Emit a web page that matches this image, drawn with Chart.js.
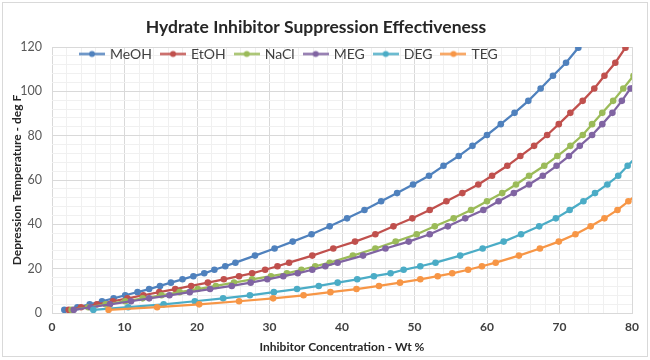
<!DOCTYPE html>
<html>
<head>
<meta charset="utf-8">
<script src="https://cdn.jsdelivr.net/npm/chart.js@4.4.1/dist/chart.umd.min.js"></script>
<style>
  body { margin: 0; background: #fff; }
  canvas { display: block; }
</style>
</head>
<body>
<canvas id="hydrateChart" width="650" height="360"></canvas>
<script>
// depression temperature levels (deg F), shared by all inhibitors
const depressionLevels = [1.4, 2.6, 3.9, 5.3, 6.6, 8.0, 9.4, 10.8, 12.2, 13.7, 15.2, 16.6, 17.9, 19.5, 21.1, 22.7,
  25.9, 29.1, 32.2, 35.5, 39.1, 42.7, 46.5, 50.4, 54.1, 58.0, 61.9, 66.4, 70.8, 75.4, 80.3, 85.2, 90.3, 95.7,
  101.3, 107.0, 112.9, 119.7];

// inhibitor concentration (wt %) needed for each level
const meohWt = [1.7, 3.5, 5.2, 6.9, 8.5, 10.1, 11.8, 13.4, 14.9, 16.4, 18.0, 19.5, 21.0, 22.4, 23.9, 25.3,
  28.0, 30.7, 33.2, 35.8, 38.3, 40.7, 43.1, 45.4, 47.6, 49.8, 52.0, 54.0, 56.1, 58.0, 60.0, 61.9, 63.8, 65.7,
  67.4, 69.1, 70.9, 72.6];
const etohWt = [2.3, 4.0, 6.2, 8.4, 10.4, 12.6, 14.8, 17.0, 19.2, 21.5, 23.7, 25.8, 27.6, 29.4, 31.1, 32.7,
  35.9, 38.8, 41.8, 44.6, 47.1, 49.7, 52.1, 54.4, 56.6, 58.8, 60.7, 62.8, 64.6, 66.5, 68.3, 69.9, 71.5, 73.2,
  74.8, 76.2, 77.7, 79.1];
const naclWt = [2.7, 5.0, 7.4, 10.1, 12.5, 15.1, 17.6, 20.1, 22.6, 25.1, 27.6, 30.2, 32.4, 34.4, 36.3, 38.3,
  41.5, 44.6, 47.4, 50.3, 52.8, 55.4, 57.8, 60.0, 62.1, 64.0, 65.8, 67.9, 69.7, 71.5, 73.2, 74.5, 75.9, 77.4,
  78.8, 80.2];
const megWt = [3.0, 5.3, 8.0, 10.9, 13.4, 16.2, 19.0, 21.8, 24.8, 27.4, 29.7, 31.9, 33.9, 35.9, 37.7, 39.4,
  42.9, 46.0, 49.2, 52.1, 54.6, 57.0, 59.5, 61.6, 63.7, 65.8, 67.7, 69.6, 71.3, 72.8, 74.5, 75.9, 77.3, 78.6,
  79.8, 81.1];
const degWt = [5.7, 10.5, 15.4, 19.7, 23.6, 27.3, 30.6, 33.8, 36.8, 39.4, 42.1, 44.4, 46.7, 48.5, 50.8, 52.9,
  56.3, 59.4, 62.3, 64.7, 67.2, 69.5, 71.4, 73.3, 74.9, 76.6, 78.1, 79.4, 80.7];
const tegWt = [7.8, 14.5, 20.3, 25.8, 30.5, 34.7, 38.4, 42.0, 45.1, 48.0, 50.8, 53.2, 55.2, 57.4, 59.3, 61.2,
  64.4, 67.3, 69.9, 72.2, 74.3, 76.2, 78.0, 79.5, 80.9];

const inhibitorNames = ['MeOH', 'EtOH', 'NaCl', 'MEG', 'DEG', 'TEG'];
const inhibitorWt = [meohWt, etohWt, naclWt, megWt, degWt, tegWt];
const seriesColors = ['#4F81BD', '#C0504D', '#9BBB59', '#8064A2', '#4BACC6', '#F79646'];

const xTickLabels = ['0', '10', '20', '30', '40', '50', '60', '70', '80'];
const yTickLabels = ['0', '20', '40', '60', '80', '100', '120'];

const FONT = 'Lato, "Open Sans", sans-serif';

// little line-with-dot picture for the legend
const legendIcon = (color) => {
  const c = document.createElement('canvas');
  c.width = 26;
  c.height = 9;
  const g = c.getContext('2d');
  g.strokeStyle = color;
  g.lineWidth = 2.25;
  g.beginPath();
  g.moveTo(0, 4.5);
  g.lineTo(26, 4.5);
  g.stroke();
  g.fillStyle = color;
  g.beginPath();
  g.arc(13, 4.5, 3, 0, Math.PI * 2);
  g.fill();
  return c;
};
const legendIcons = seriesColors.map(legendIcon);

const datasets = inhibitorNames.map((name, i) => ({
  label: name,
  data: inhibitorWt[i].map((wt, j) => ({ x: wt, y: depressionLevels[j] })),
  borderColor: seriesColors[i],
  backgroundColor: seriesColors[i],
  borderWidth: 2.25,
  pointRadius: 3.3,
  pointBorderWidth: 0,
  pointBackgroundColor: seriesColors[i],
  tension: 0,
  order: inhibitorNames.length - i, // later series drawn on top, like excel
}));

// legend sits inside the plot area in one row, nudge it to where excel put it
const legendPlacement = {
  id: 'legendPlacement',
  afterInit(chart) {
    chart.legend.isHorizontal = () => true;
  },
  beforeDraw(chart) {
    const area = chart.chartArea;
    chart.legend.left = area.left + 19;
    chart.legend.top = area.top - 10;
  },
};

const chartBorder = {
  id: 'chartBorder',
  afterDraw(chart) {
    const ctx = chart.ctx;
    ctx.save();
    ctx.strokeStyle = '#d9d9d9';
    ctx.lineWidth = 1;
    ctx.strokeRect(2.5, 2.5, chart.width - 5, chart.height - 6);
    ctx.restore();
  },
};

new Chart('hydrateChart', {
  type: 'line',
  data: { datasets },
  plugins: [legendPlacement, chartBorder],
  options: {
    responsive: false,
    animation: false,
    layout: { padding: { top: 0, right: 18, bottom: 0, left: 0 } },
    plugins: {
      title: {
        display: true,
        text: 'Hydrate Inhibitor Suppression Effectiveness',
        color: '#262626',
        font: { family: FONT, size: 17.5, weight: 'bold' },
        padding: { top: 17, bottom: 9 },
      },
      legend: {
        position: 'chartArea',
        align: 'start',
        labels: {
          usePointStyle: true,
          pointStyleWidth: 22,
          padding: 10,
          color: '#404040',
          font: { family: FONT, size: 14 },
          sort: (a, b) => a.datasetIndex - b.datasetIndex,
          generateLabels: (chart) =>
            Chart.defaults.plugins.legend.labels.generateLabels(chart).map((item) => ({
              ...item,
              pointStyle: legendIcons[item.datasetIndex],
            })),
        },
      },
      tooltip: { enabled: false },
    },
    scales: {
      x: {
        type: 'linear',
        min: 0,
        max: 80,
        afterFit: (scale) => { scale.height = 47; },
        ticks: {
          stepSize: 2,
          autoSkip: false,
          maxRotation: 0,
          padding: 7,
          color: '#404040',
          font: { family: FONT, size: 12, weight: 'bold' },
          callback: (value) => (xTickLabels.includes(String(value)) ? String(value) : ''),
        },
        grid: {
          drawTicks: false,
          color: (ctx) => (ctx.tick && ctx.tick.value % 10 === 0 ? '#d9d9d9' : '#f0f0f0'),
        },
        border: { color: '#d9d9d9' },
        title: {
          display: true,
          text: 'Inhibitor Concentration - Wt %',
          color: '#262626',
          font: { family: FONT, size: 12, weight: 'bold' },
          padding: { top: 0, bottom: 6 },
        },
      },
      y: {
        type: 'linear',
        min: 0,
        max: 120,
        afterFit: (scale) => { scale.width = 52; },
        ticks: {
          stepSize: 4,
          autoSkip: false,
          padding: 10,
          color: '#595959',
          font: { family: FONT, size: 12.5 },
          callback: (value) => (yTickLabels.includes(String(value)) ? String(value) : ''),
        },
        grid: {
          drawTicks: false,
          color: (ctx) => (ctx.tick && ctx.tick.value % 20 === 0 ? '#d9d9d9' : '#f0f0f0'),
        },
        border: { display: false },
        title: {
          display: true,
          text: 'Depression Temperature - deg F',
          color: '#262626',
          font: { family: FONT, size: 12, weight: 'bold' },
          padding: { top: 10, bottom: 0 },
        },
      },
    },
  },
});
</script>
</body>
</html>
